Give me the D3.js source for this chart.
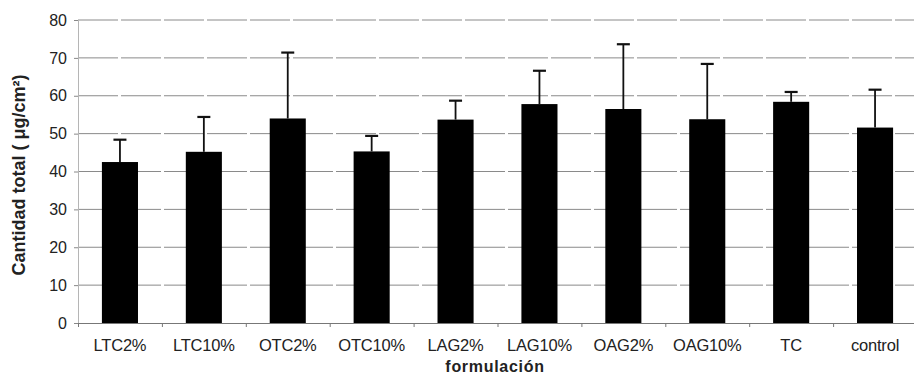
<!DOCTYPE html>
<html>
<head>
<meta charset="utf-8">
<script src="https://cdn.jsdelivr.net/npm/d3@7"></script>
<style>
  body { margin: 0; background: #fff; }
  text { font-family: "Liberation Sans", Arial, sans-serif; }
</style>
</head>
<body>
<div id="chart"></div>
<script>
// data
const categories = ["LTC2%", "LTC10%", "OTC2%", "OTC10%", "LAG2%", "LAG10%", "OAG2%", "OAG10%", "TC", "control"];
const means = [42.5, 45.2, 54.0, 45.3, 53.7, 57.8, 56.5, 53.8, 58.4, 51.6];
const errTops = [48.4, 54.4, 71.4, 49.4, 58.7, 66.6, 73.6, 68.4, 61.0, 61.6];
const yTicks = [0, 10, 20, 30, 40, 50, 60, 70, 80];

const width = 914;
const height = 375;
const margin = { top: 20, right: -3, bottom: 52, left: 78 };

const svg = d3.select("#chart")
  .append("svg")
  .attr("width", width)
  .attr("height", height);

const x = d3.scaleBand()
  .domain(categories)
  .range([margin.left, width - margin.right])
  .paddingInner(0.57)
  .paddingOuter(0.285);

const y = d3.scaleLinear()
  .domain([0, 80])
  .range([height - margin.bottom, margin.top]);

// horizontal grid lines
svg.selectAll(".grid")
  .data(yTicks.filter(d => d > 0))
  .enter()
  .append("line")
  .attr("class", "grid")
  .attr("x1", margin.left)
  .attr("x2", width)
  .attr("y1", d => y(d))
  .attr("y2", d => y(d))
  .style("stroke", "#8a8a8a")
  .style("stroke-width", 1)
  .style("stroke-dasharray", "40 3");

// y axis
svg.append("g")
  .attr("transform", `translate(${margin.left},0)`)
  .call(d3.axisLeft(y).tickValues(yTicks).tickSize(4).tickPadding(7))
  .call(g => g.select(".domain").style("stroke", "#b5b5b5"))
  .call(g => g.selectAll(".tick line").style("stroke", "#888"))
  .call(g => g.selectAll(".tick text").attr("font-size", "16px").attr("fill", "#222").style("font-family", "'Liberation Sans', Arial, sans-serif"));

// x axis
const xAxisScale = d3.scalePoint()
  .domain(d3.range(categories.length + 1))
  .range([margin.left, x.step() * categories.length + margin.left]);

svg.append("g")
  .attr("transform", `translate(0,${y(0)})`)
  .call(d3.axisBottom(xAxisScale).tickSize(4).tickFormat(""))
  .call(g => g.select(".domain").style("stroke", "#777"))
  .call(g => g.selectAll(".tick line").style("stroke", "#777"));

svg.selectAll(".xlabel")
  .data(categories)
  .enter()
  .append("text")
  .attr("class", "xlabel")
  .attr("x", d => x(d) + x.bandwidth() / 2)
  .attr("y", y(0) + 28)
  .attr("text-anchor", "middle")
  .attr("font-size", "16.5px")
  .attr("letter-spacing", "-0.2px")
  .attr("fill", "#222")
  .text(d => d);

// bars
svg.selectAll(".bar")
  .data(categories)
  .enter()
  .append("rect")
  .attr("class", "bar")
  .attr("x", d => x(d))
  .attr("width", x.bandwidth())
  .attr("y", (d, i) => y(means[i]))
  .attr("height", (d, i) => y(0) - y(means[i]))
  .style("fill", "#000");

// error bars (upper only)
svg.selectAll(".err")
  .data(categories)
  .enter()
  .append("line")
  .attr("class", "err")
  .attr("x1", d => x(d) + x.bandwidth() / 2)
  .attr("x2", d => x(d) + x.bandwidth() / 2)
  .attr("y1", (d, i) => y(means[i]))
  .attr("y2", (d, i) => y(errTops[i]))
  .style("stroke", "#111")
  .style("stroke-width", 1.8);

svg.selectAll(".cap")
  .data(categories)
  .enter()
  .append("line")
  .attr("class", "cap")
  .attr("x1", d => x(d) + x.bandwidth() / 2 - 6.5)
  .attr("x2", d => x(d) + x.bandwidth() / 2 + 6.5)
  .attr("y1", (d, i) => y(errTops[i]))
  .attr("y2", (d, i) => y(errTops[i]))
  .style("stroke", "#111")
  .style("stroke-width", 2.2);

// axis titles
svg.append("text")
  .attr("transform", "translate(25, 175) rotate(-90)")
  .attr("text-anchor", "middle")
  .attr("font-size", "18px")
  .attr("font-weight", "bold")
  .attr("fill", "#222")
  .text("Cantidad total ( μg/cm²)");

svg.append("text")
  .attr("x", 495)
  .attr("y", 372)
  .attr("text-anchor", "middle")
  .attr("font-size", "16px")
  .attr("letter-spacing", "0.7px")
  .attr("font-weight", "bold")
  .attr("fill", "#222")
  .text("formulación");
</script>
</body>
</html>
